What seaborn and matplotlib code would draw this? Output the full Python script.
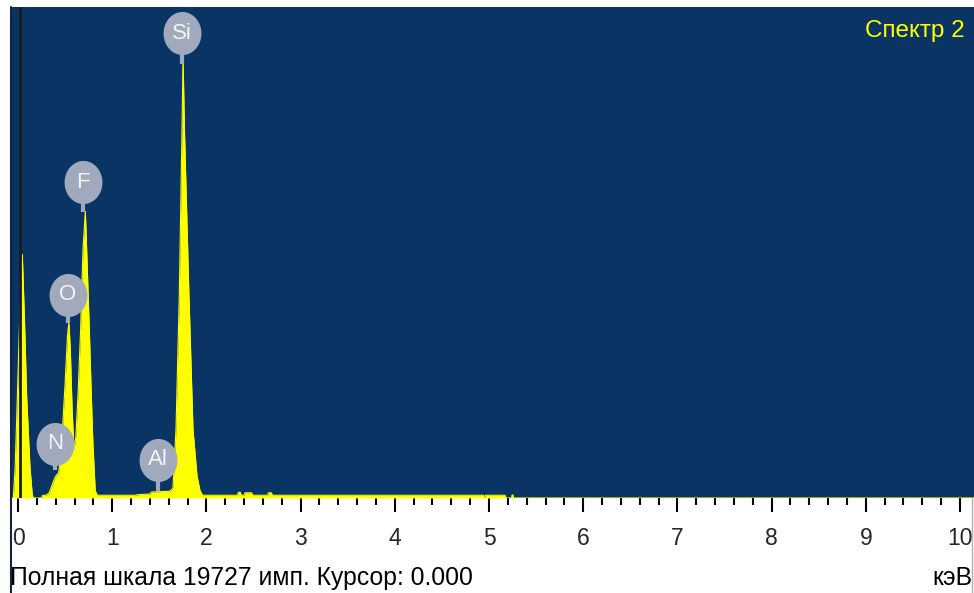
import numpy as np
import pandas as pd
import seaborn as sns
import matplotlib
matplotlib.use("Agg")
import matplotlib.pyplot as plt
from matplotlib import font_manager
from matplotlib.path import Path
from matplotlib.lines import Line2D

# ---------------- data ----------------
energy_kev = [-0.085, -0.05, -0.03, -0.007, 0.02, 0.046, 0.07, 0.092, 0.127, 0.15, 0.16,
              0.25, 0.26, 0.30, 0.33, 0.36, 0.39, 0.41, 0.43, 0.45, 0.47, 0.50, 0.525,
              0.54, 0.555, 0.575, 0.595, 0.615, 0.64, 0.665, 0.69, 0.715, 0.735, 0.755,
              0.775, 0.795, 0.82, 0.84, 0.86, 1.25, 1.26, 1.40, 1.42, 1.60, 1.62, 1.645,
              1.677, 1.712, 1.741, 1.752, 1.767, 1.815, 1.858, 1.90, 1.932, 1.96,
              2.33, 2.34, 2.36, 2.37, 2.40, 2.41, 2.48, 2.49, 2.65, 2.66, 2.69, 2.70,
              4.94, 4.945, 4.955, 4.96, 5.17, 5.18, 5.24, 5.245, 5.255, 5.26, 10.15]
counts = [0, 0, 1250, 4070, 7500, 9780, 7000, 4070, 1250, 200, 0,
          0, 100, 120, 200, 500, 800, 930, 1000, 1500, 2600, 4600, 6500,
          7050, 6000, 3500, 1900, 2500, 4400, 6800, 10000, 11510, 9300, 7000,
          4500, 2200, 300, 120, 110, 110, 130, 160, 240, 270, 300, 400,
          2740, 8100, 14800, 17750, 14800, 8100, 2740, 900, 300, 110,
          110, 230, 230, 110, 110, 210, 210, 110, 110, 210, 210, 110,
          110, 0, 0, 110, 110, 0, 0, 120, 120, 0, 0]

full_scale = 19727
x_ticks = [0, 1, 2, 3, 4, 5, 6, 7, 8, 9, 10]

elements = ["N", "O", "F", "Al", "Si"]
element_kev = [0.393, 0.531, 0.69, 1.486, 1.741]
label_counts = [2175, 8170, 12680, 1530, 18680]
stem_end_counts = [1130, 7050, 11510, 280, 17430]

spectrum_name = "Спектр 2"
footer_text = "Полная шкала 19727 имп. Курсор: 0.000"
unit_text = "кэВ"

# ---------------- style ----------------
sns.set_style("white")

def pick_font(names):
    for n in names:
        try:
            font_manager.findfont(font_manager.FontProperties(family=n), fallback_to_default=False)
            return n
        except Exception:
            continue
    return "DejaVu Sans"

FONT = pick_font(["Liberation Sans", "Arial"])
plt.rcParams["font.family"] = [FONT, "DejaVu Sans"]

BG = "#093464"
YELLOW = "#ffff00"
BUBBLE = "#a0aabc"

W, H = 974, 593
fig = plt.figure(figsize=(W / 100, H / 100), dpi=100)
fig.patch.set_facecolor("white")

ax_left, ax_right, ax_top, ax_bottom = 10, 974, 7, 498
ax = fig.add_axes([ax_left / W, 1 - ax_bottom / H, (ax_right - ax_left) / W, (ax_bottom - ax_top) / H])
ax.set_facecolor(BG)

df = pd.DataFrame({"energy": energy_kev, "counts": counts})
ax.fill_between(df["energy"], 0, df["counts"], color=YELLOW, linewidth=0, zorder=2)
sns.lineplot(data=df, x="energy", y="counts", ax=ax, color=YELLOW, linewidth=0.8,
             sort=False, estimator=None, zorder=3)

ax.set_xlim(-0.085, 10.149)
ax.set_ylim(0, full_scale)

# cursor line
ax.axvline(0.02, color="#1c1c1c", linewidth=2, zorder=4)

# element bubbles
t = np.linspace(0, 2 * np.pi, 64)
ell = Path(np.column_stack([0.88 * np.cos(t), np.sin(t)]), closed=True)
for el, ex, ly, sy in zip(elements, element_kev, label_counts, stem_end_counts):
    ax.plot([ex, ex], [ly, sy], color=BUBBLE, linewidth=3, solid_capstyle="butt", zorder=5)
    ax.plot([ex], [ly], marker=ell, markersize=31, color=BUBBLE, markeredgewidth=0, zorder=6)
    ax.text(ex, ly, el, color="#f4f4f4", fontsize=16, ha="center", va="center", zorder=7)

# axes styling
for s in ax.spines.values():
    s.set_visible(False)
ax.set_yticks([])
ax.set_xticks(x_ticks)
ax.set_xticklabels([str(v) for v in x_ticks])
ax.set_xticks(np.arange(0, 10.01, 0.2), minor=True)
ax.tick_params(axis="x", which="major", direction="out", length=10, width=1.5, color="black",
               labelsize=16.5, pad=11, bottom=True)
ax.tick_params(axis="x", which="minor", direction="out", length=5, width=1.5, color="black",
               bottom=True)
ax.set_xlabel("")
ax.set_ylabel("")

# text
fig.text((ax_right - 9) / W, 1 - 31 / H, spectrum_name, color=YELLOW, fontsize=17.5,
         ha="right", va="center")
fig.text(10 / W, 1 - 578 / H, footer_text, color="black", fontsize=17.8, ha="left", va="center")
fig.text(972 / W, 1 - 578 / H, unit_text, color="black", fontsize=17.8, ha="right", va="center")

# border lines
fig.add_artist(Line2D([11 / W, 11 / W], [0, 1 - 7 / H], transform=fig.transFigure,
                      color="#16243f", linewidth=1.5))
fig.add_artist(Line2D([972 / W, 972 / W], [0, 1 - 498 / H], transform=fig.transFigure,
                      color="#b0b0b0", linewidth=1))

fig.savefig("out.png", dpi=100, facecolor="white")
